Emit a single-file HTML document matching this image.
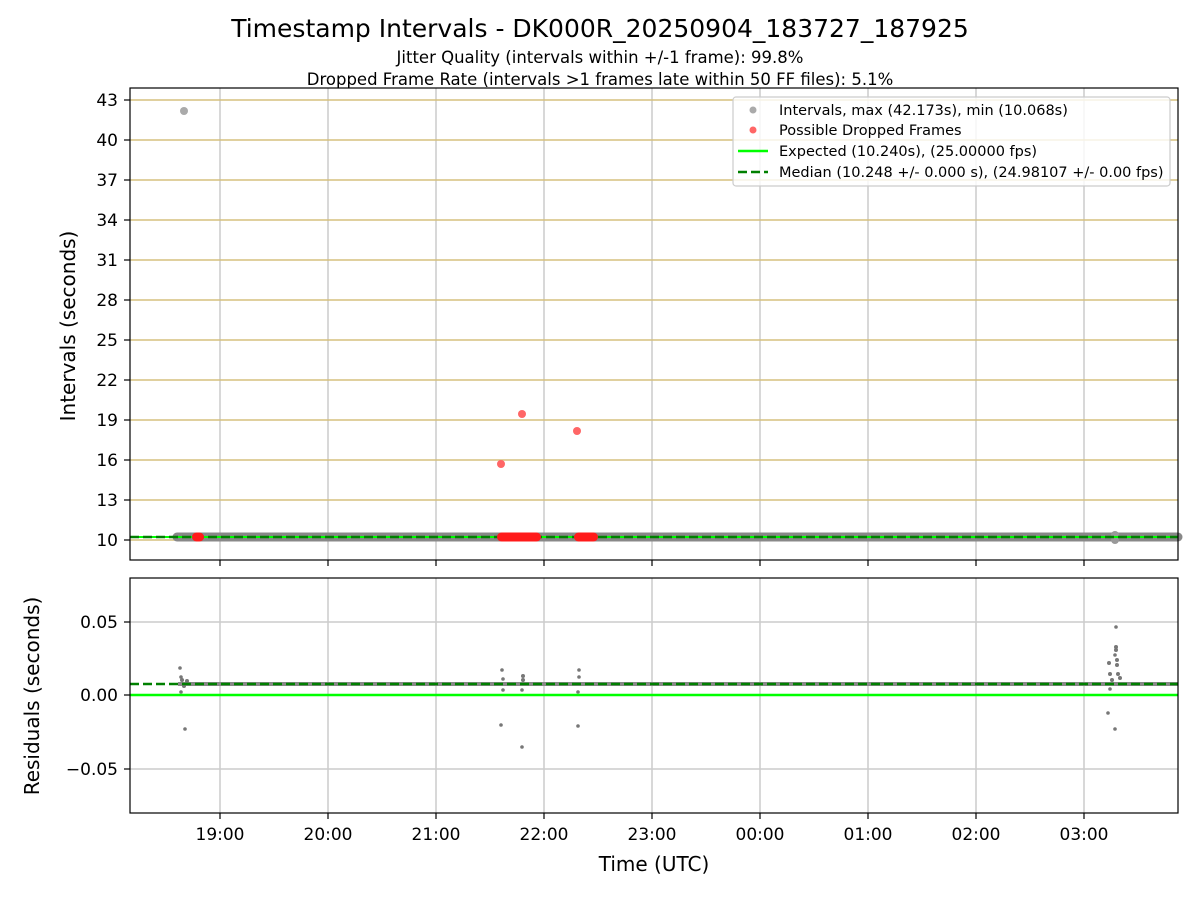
<!DOCTYPE html>
<html><head><meta charset="utf-8"><style>body{margin:0;background:#fff}svg{display:block}text{font-family:"DejaVu Sans","Liberation Sans",sans-serif;fill:#000}</style></head><body>
<svg width="1200" height="900" viewBox="0 0 1200 900" xmlns="http://www.w3.org/2000/svg">
<rect width="1200" height="900" fill="#fff"/>
<text x="600" y="37" font-size="25" text-anchor="middle">Timestamp Intervals - DK000R_20250904_183727_187925</text>
<text x="600" y="63" font-size="16.5" text-anchor="middle">Jitter Quality (intervals within +/-1 frame): 99.8%</text>
<text x="600" y="85" font-size="16.5" text-anchor="middle">Dropped Frame Rate (intervals &gt;1 frames late within 50 FF files): 5.1%</text>
<g stroke="#cccccc" stroke-width="1.5">
<line x1="220" y1="88" x2="220" y2="560"/><line x1="328" y1="88" x2="328" y2="560"/><line x1="436" y1="88" x2="436" y2="560"/><line x1="544" y1="88" x2="544" y2="560"/><line x1="652" y1="88" x2="652" y2="560"/><line x1="760" y1="88" x2="760" y2="560"/><line x1="868" y1="88" x2="868" y2="560"/><line x1="976" y1="88" x2="976" y2="560"/><line x1="1084" y1="88" x2="1084" y2="560"/>
</g>
<g stroke="#d6c07e" stroke-width="1.5">
<line x1="130" y1="540" x2="1178" y2="540"/><line x1="130" y1="500" x2="1178" y2="500"/><line x1="130" y1="460" x2="1178" y2="460"/><line x1="130" y1="420" x2="1178" y2="420"/><line x1="130" y1="380" x2="1178" y2="380"/><line x1="130" y1="340" x2="1178" y2="340"/><line x1="130" y1="300" x2="1178" y2="300"/><line x1="130" y1="260" x2="1178" y2="260"/><line x1="130" y1="220" x2="1178" y2="220"/><line x1="130" y1="180" x2="1178" y2="180"/><line x1="130" y1="140" x2="1178" y2="140"/><line x1="130" y1="100" x2="1178" y2="100"/>
</g>
<line x1="177" y1="537" x2="1178" y2="537" stroke="#888" stroke-width="9" stroke-linecap="round"/>
<circle cx="184" cy="111" r="4" fill="#aaa"/>
<circle cx="1115" cy="535" r="4" fill="#999"/><circle cx="1115" cy="540" r="4" fill="#999"/>
<line x1="130" y1="537" x2="1178" y2="537" stroke="#00ff00" stroke-width="2"/>
<line x1="130" y1="537" x2="1178" y2="537" stroke="#008000" stroke-width="2.5" stroke-dasharray="9,4"/>
<g fill="#ff1a1a">
<rect x="192" y="532.5" width="12" height="9" rx="4.5"/>
<rect x="497" y="532.5" width="44" height="9" rx="4.5"/>
<rect x="574" y="532.5" width="24" height="9" rx="4.5"/>
</g>
<g fill="#ff6666"><circle cx="501" cy="464" r="4"/><circle cx="522" cy="414" r="4"/><circle cx="577" cy="431" r="4"/></g>
<rect x="130" y="88" width="1048" height="472" fill="none" stroke="#000" stroke-width="1.2"/>
<g stroke="#000" stroke-width="1.2">
<line x1="220" y1="560" x2="220" y2="566"/><line x1="328" y1="560" x2="328" y2="566"/><line x1="436" y1="560" x2="436" y2="566"/><line x1="544" y1="560" x2="544" y2="566"/><line x1="652" y1="560" x2="652" y2="566"/><line x1="760" y1="560" x2="760" y2="566"/><line x1="868" y1="560" x2="868" y2="566"/><line x1="976" y1="560" x2="976" y2="566"/><line x1="1084" y1="560" x2="1084" y2="566"/>
<line x1="124" y1="540" x2="130" y2="540"/><line x1="124" y1="500" x2="130" y2="500"/><line x1="124" y1="460" x2="130" y2="460"/><line x1="124" y1="420" x2="130" y2="420"/><line x1="124" y1="380" x2="130" y2="380"/><line x1="124" y1="340" x2="130" y2="340"/><line x1="124" y1="300" x2="130" y2="300"/><line x1="124" y1="260" x2="130" y2="260"/><line x1="124" y1="220" x2="130" y2="220"/><line x1="124" y1="180" x2="130" y2="180"/><line x1="124" y1="140" x2="130" y2="140"/><line x1="124" y1="100" x2="130" y2="100"/>
</g>
<g font-size="17" text-anchor="end">
<text x="118" y="546">10</text><text x="118" y="506">13</text><text x="118" y="466">16</text><text x="118" y="426">19</text><text x="118" y="386">22</text><text x="118" y="346">25</text><text x="118" y="306">28</text><text x="118" y="266">31</text><text x="118" y="226">34</text><text x="118" y="186">37</text><text x="118" y="146">40</text><text x="118" y="106">43</text>
</g>
<text transform="translate(75,326) rotate(-90)" font-size="20" text-anchor="middle">Intervals (seconds)</text>
<rect x="733" y="97" width="437" height="89" rx="3" fill="#fff" fill-opacity="0.8" stroke="#ccc" stroke-width="1.2"/>
<circle cx="753" cy="110" r="3.5" fill="#aaa"/><circle cx="753" cy="130" r="3.5" fill="#ff6666"/>
<line x1="738" y1="151" x2="768" y2="151" stroke="#00ff00" stroke-width="2.5"/>
<line x1="738" y1="172" x2="768" y2="172" stroke="#008000" stroke-width="2.5" stroke-dasharray="9,4"/>
<g font-size="14.5"><text x="779" y="115">Intervals, max (42.173s), min (10.068s)</text><text x="779" y="135">Possible Dropped Frames</text><text x="779" y="156">Expected (10.240s), (25.00000 fps)</text><text x="779" y="177">Median (10.248 +/- 0.000 s), (24.98107 +/- 0.00 fps)</text></g>
<g stroke="#cccccc" stroke-width="1.5">
<line x1="220" y1="578" x2="220" y2="813"/><line x1="328" y1="578" x2="328" y2="813"/><line x1="436" y1="578" x2="436" y2="813"/><line x1="544" y1="578" x2="544" y2="813"/><line x1="652" y1="578" x2="652" y2="813"/><line x1="760" y1="578" x2="760" y2="813"/><line x1="868" y1="578" x2="868" y2="813"/><line x1="976" y1="578" x2="976" y2="813"/><line x1="1084" y1="578" x2="1084" y2="813"/>
<line x1="130" y1="622" x2="1178" y2="622"/><line x1="130" y1="695" x2="1178" y2="695"/><line x1="130" y1="769" x2="1178" y2="769"/>
</g>
<line x1="178" y1="684" x2="1178" y2="684" stroke="#888" stroke-width="4"/>
<g fill="#777">
<circle cx="180" cy="668" r="1.8"/><circle cx="181" cy="677" r="1.8"/><circle cx="181" cy="692" r="1.8"/><circle cx="185" cy="729" r="1.8"/><circle cx="182" cy="680" r="2"/><circle cx="184" cy="686" r="2"/><circle cx="187" cy="681" r="2"/>
<circle cx="502" cy="670" r="1.8"/><circle cx="503" cy="679" r="1.8"/><circle cx="503" cy="690" r="1.8"/><circle cx="501" cy="725" r="1.8"/><circle cx="523" cy="676" r="2"/><circle cx="523" cy="680" r="2"/><circle cx="522" cy="690" r="1.8"/><circle cx="522" cy="747" r="1.8"/>
<circle cx="579" cy="670" r="1.8"/><circle cx="579" cy="677" r="1.8"/><circle cx="578" cy="692" r="1.8"/><circle cx="578" cy="726" r="1.8"/>
<circle cx="1116" cy="627" r="1.8"/><circle cx="1116" cy="647" r="2"/><circle cx="1116" cy="650" r="2"/><circle cx="1115" cy="655" r="1.8"/><circle cx="1117" cy="660" r="2"/><circle cx="1117" cy="665" r="2"/><circle cx="1109" cy="663" r="2"/><circle cx="1110" cy="674" r="2"/><circle cx="1110" cy="689" r="1.8"/><circle cx="1108" cy="713" r="1.8"/><circle cx="1115" cy="729" r="1.8"/><circle cx="1118" cy="674" r="2"/><circle cx="1120" cy="678" r="2"/><circle cx="1112" cy="680" r="2"/>
</g>
<line x1="130" y1="695" x2="1178" y2="695" stroke="#00ff00" stroke-width="2.5"/>
<line x1="130" y1="684" x2="1178" y2="684" stroke="#008000" stroke-width="2.5" stroke-dasharray="9,4"/>
<rect x="130" y="578" width="1048" height="235" fill="none" stroke="#000" stroke-width="1.2"/>
<g stroke="#000" stroke-width="1.2">
<line x1="220" y1="813" x2="220" y2="819"/><line x1="328" y1="813" x2="328" y2="819"/><line x1="436" y1="813" x2="436" y2="819"/><line x1="544" y1="813" x2="544" y2="819"/><line x1="652" y1="813" x2="652" y2="819"/><line x1="760" y1="813" x2="760" y2="819"/><line x1="868" y1="813" x2="868" y2="819"/><line x1="976" y1="813" x2="976" y2="819"/><line x1="1084" y1="813" x2="1084" y2="819"/>
<line x1="124" y1="622" x2="130" y2="622"/><line x1="124" y1="695" x2="130" y2="695"/><line x1="124" y1="769" x2="130" y2="769"/>
</g>
<g font-size="17" text-anchor="end"><text x="118" y="628">0.05</text><text x="118" y="701">0.00</text><text x="118" y="775">−0.05</text></g>
<text transform="translate(39,696) rotate(-90)" font-size="20" text-anchor="middle">Residuals (seconds)</text>
<g font-size="17" text-anchor="middle">
<text x="220" y="840">19:00</text><text x="328" y="840">20:00</text><text x="436" y="840">21:00</text><text x="544" y="840">22:00</text><text x="652" y="840">23:00</text><text x="760" y="840">00:00</text><text x="868" y="840">01:00</text><text x="976" y="840">02:00</text><text x="1084" y="840">03:00</text>
</g>
<text x="654" y="871" font-size="20" text-anchor="middle">Time (UTC)</text>
</svg>
</body></html>
